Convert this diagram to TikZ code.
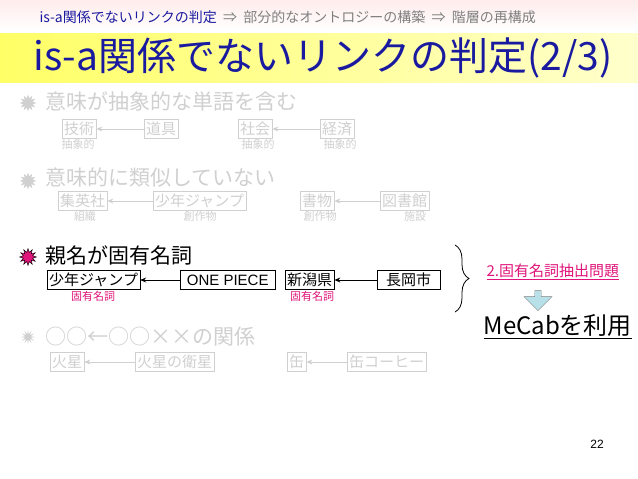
\documentclass[tikz,border=0pt]{standalone}
\usepackage{fontspec}
\setmainfont{Liberation Sans}
\newfontfamily\jp{Noto Sans CJK JP}
\usetikzlibrary{shapes.geometric,shapes.arrows,arrows.meta,decorations.pathreplacing}
\definecolor{lg}{HTML}{D0D0D0}
\definecolor{tb}{HTML}{1A1AA0}
\definecolor{pk}{HTML}{E0147A}
\definecolor{ab}{HTML}{B8E0E8}
\tikzset{
 box/.style={draw,inner sep=2pt,minimum height=19pt,font=\jp\fontsize{15}{15}\selectfont,anchor=west},
 gbox/.style={box,draw=lg,text=lg},
 lab/.style={font=\jp\fontsize{11}{11}\selectfont},
 sec/.style={font=\jp\fontsize{21}{21}\selectfont,anchor=west},
 lnk/.style={-{Stealth[length=6pt,width=5pt]},line width=0.9pt},
 glnk/.style={lnk,draw=lg},
 bullet/.style={star,star points=12,star point ratio=1.8,minimum size=17pt,inner sep=0pt},
}
\begin{document}
\begin{tikzpicture}[x=1pt,y=-1pt]
\useasboundingbox (0,0) rectangle (638,479);
\fill[white] (0,0) rectangle (638,479);
\shade[top color=pink!30,bottom color=white] (0,0) rectangle (638,31);
\shade[left color=yellow!60,right color=yellow!20] (0,33) rectangle (638,82);
\node[font=\jp\fontsize{14}{14}\selectfont,anchor=west] (bc) at (36,17) {\textcolor{tb}{is-a関係でないリンクの判定}\textcolor{gray}{\ \ ⇒\ \ 部分的なオントロジーの構築\ \ ⇒\ \ 階層の再構成}};
\node[font=\jp\fontsize{39}{39}\selectfont,text=tb,anchor=west] (title) at (30,58) {is-a関係でないリンクの判定(2/3)};
% section 1
\node[bullet,fill=lg] (s1) at (28,103) {};
\node[sec,text=lg] (t1) at (42,101) {意味が抽象的な単語を含む};
\node[gbox] (a1) at (62,129) {技術};
\node[gbox] (a2) at (144,129) {道具};
\node[gbox] (a3) at (238,129) {社会};
\node[gbox] (a4) at (320,129) {経済};
\draw[glnk] (a2) -- (a1); \draw[glnk] (a4) -- (a3);
\node[lab,text=lg] (l1) at (78,144) {抽象的};
\node[lab,text=lg] (l2) at (258,144) {抽象的};
\node[lab,text=lg] (l3) at (340,144) {抽象的};
% section 2
\node[bullet,fill=lg] (s2) at (28,181) {};
\node[sec,text=lg] (t2) at (42,178) {意味的に類似していない};
\node[gbox] (b1) at (58,201) {集英社};
\node[gbox] (b2) at (153,201) {少年ジャンプ};
\node[gbox] (b3) at (300,201) {書物};
\node[gbox] (b4) at (380,201) {図書館};
\draw[glnk] (b2) -- (b1); \draw[glnk] (b4) -- (b3);
\node[lab,text=lg] (m1) at (85,216) {組織};
\node[lab,text=lg] (m2) at (200,216) {創作物};
\node[lab,text=lg] (m3) at (320,216) {創作物};
\node[lab,text=lg] (m4) at (415,216) {施設};
% section 3
\node[bullet,fill=pk,draw=black,line width=0.4pt] (s3) at (28,257) {};
\node[sec] (t3) at (42,255) {親名が固有名詞};
\node[box] (c1) at (47,280) {少年ジャンプ};
\node[box,font=\fontsize{15}{15}\selectfont,minimum width=95pt] (c2) at (180,280) {ONE PIECE};
\node[box] (c3) at (285,280) {新潟県};
\node[box,minimum width=63pt] (c4) at (377,280) {長岡市};
\draw[lnk] (c2) -- (c1); \draw[lnk] (c4) -- (c3);
\node[lab,text=pk] (n1) at (93,296) {固有名詞};
\node[lab,text=pk] (n2) at (312,296) {固有名詞};
\coordinate (br1) at (455,245); \coordinate (br2) at (455,312);
\draw[decorate,decoration={brace,amplitude=14pt},line width=0.8pt] (br1) -- (br2);
\node[font=\jp\fontsize{15}{15}\selectfont,text=pk,anchor=west] (p) at (483,272) {\underline{2.固有名詞抽出問題}};
\node[single arrow,shape border rotate=270,fill=ab,draw=gray,minimum width=28pt,single arrow head extend=4pt,minimum height=20pt,inner sep=1pt] (dn) at (538,299) {};
\node[font=\jp\fontsize{24}{24}\selectfont,anchor=west] (mc) at (480,327) {\underline{MeCabを利用}};
% section 4
\node[bullet,fill=lg,star point ratio=2.5,minimum size=14pt] (s4) at (28,337) {};
\node[sec,text=lg] (t4) at (42,337) {○○←○○××の関係};
\node[gbox] (d1) at (50,362) {火星};
\node[gbox] (d2) at (135,362) {火星の衛星};
\node[gbox] (d3) at (287,362) {缶};
\node[gbox] (d4) at (347,362) {缶コーヒー};
\draw[glnk] (d2) -- (d1); \draw[glnk] (d4) -- (d3);
\node[font=\fontsize{12}{12}\selectfont] (pg) at (597,444) {22};
\end{tikzpicture}
\end{document}
